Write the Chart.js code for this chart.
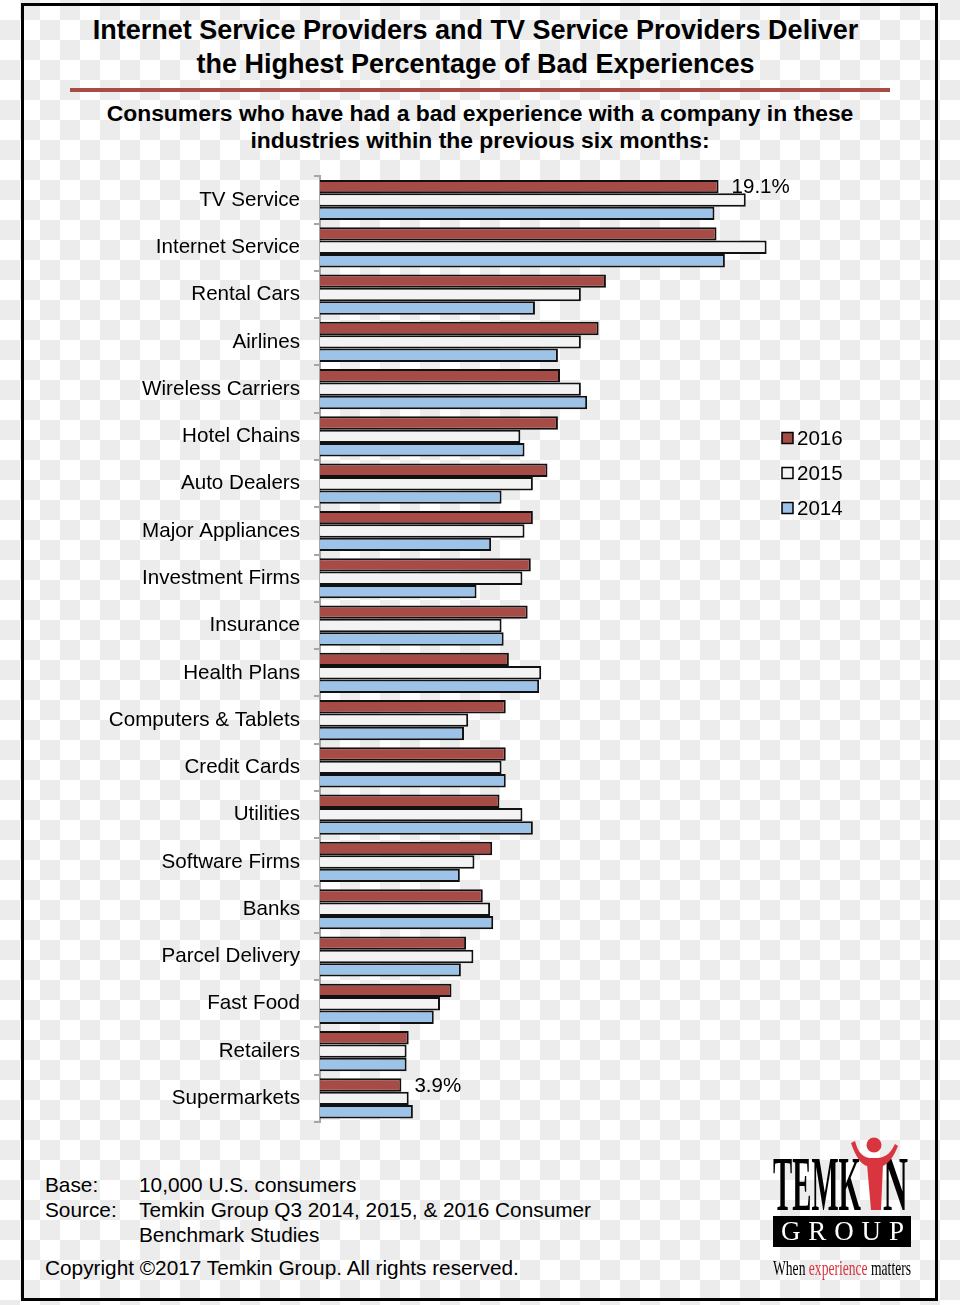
<!DOCTYPE html>
<html>
<head>
<meta charset="utf-8">
<script src="https://cdn.jsdelivr.net/npm/chart.js@4.4.1/dist/chart.umd.min.js"></script>
<style>
  html, body { margin: 0; padding: 0; }
  body {
    width: 960px; height: 1305px; position: relative; overflow: hidden;
    font-family: "Liberation Sans", Arial, sans-serif; color: #000;
    background-color: #fff;
    background-image: conic-gradient(#ececec 25%, #fff 0 50%, #ececec 0 75%, #fff 0);
    background-size: 40px 40px;
  }
  .frame { position: absolute; left: 21px; top: 3px; width: 917px; height: 1298px; box-sizing: border-box; border: 3px solid #000; }
  .title { position: absolute; left: 0; top: 13px; width: 951px; text-align: center; font-weight: bold; font-size: 27px; line-height: 34px; }
  .rule { position: absolute; left: 70px; top: 88px; width: 820px; height: 4px; background: #a84b47; }
  .subtitle { position: absolute; left: 0; top: 100px; width: 960px; text-align: center; font-weight: bold; font-size: 22.9px; line-height: 27px; }
  .foot { position: absolute; left: 45px; font-size: 20.8px; line-height: 25px; white-space: nowrap; }
  .foot span { display: inline-block; width: 94px; }
  #chart { position: absolute; left: 0; top: 150px; }
  .logo { position: absolute; left: 0; top: 0; }
</style>
</head>
<body>
<div class="frame"></div>
<div class="title">Internet Service Providers and TV Service Providers Deliver<br>the Highest Percentage of Bad Experiences</div>
<div class="rule"></div>
<div class="subtitle">Consumers who have had a bad experience with a company in these<br>industries within the previous six months:</div>

<canvas id="chart" width="960" height="1000"></canvas>

<div class="foot" style="top:1172px"><span>Base:</span>10,000 U.S. consumers</div>
<div class="foot" style="top:1197px"><span>Source:</span>Temkin Group Q3 2014, 2015, &amp; 2016 Consumer</div>
<div class="foot" style="top:1222px"><span></span>Benchmark Studies</div>
<div class="foot" style="top:1255px">Copyright ©2017 Temkin Group. All rights reserved.</div>

<svg class="logo" width="960" height="1305" viewBox="0 0 960 1305">
  <text x="773" y="1210" font-family="Liberation Serif, serif" font-weight="bold" font-size="78" textLength="88" lengthAdjust="spacingAndGlyphs">TEMK</text>
  <text x="883" y="1210" font-family="Liberation Serif, serif" font-weight="bold" font-size="78" textLength="25" lengthAdjust="spacingAndGlyphs">N</text>
  <circle cx="874" cy="1145" r="7.5" fill="#d8353f"/>
  <path d="M851,1143 C856,1158 862,1165 867,1166 L883,1166 C889,1163 894,1156 898,1146 L895,1144 C891,1152 887,1157 878,1158 L870,1158 C862,1157 858,1152 855,1141 Z" fill="#d8353f"/>
  <path d="M867,1164 L883,1164 L881,1210 L871,1210 Z" fill="#d8353f"/>
  <rect x="773" y="1216" width="138" height="31" fill="#000"/>
  <text x="781" y="1240" font-family="Liberation Serif, serif" font-size="27" fill="#fff" textLength="123" lengthAdjust="spacing">GROUP</text>
  <text x="773" y="1275" font-family="Liberation Serif, serif" font-size="22" textLength="138" lengthAdjust="spacingAndGlyphs">When <tspan fill="#d8353f">experience</tspan> matters</text>
</svg>

<script>
var categories = ["TV Service", "Internet Service", "Rental Cars", "Airlines", "Wireless Carriers",
  "Hotel Chains", "Auto Dealers", "Major Appliances", "Investment Firms", "Insurance",
  "Health Plans", "Computers & Tablets", "Credit Cards", "Utilities", "Software Firms",
  "Banks", "Parcel Delivery", "Fast Food", "Retailers", "Supermarkets"]

var v2016 = [19.1, 19.0, 13.7, 13.35, 11.5, 11.4, 10.9, 10.2, 10.1, 9.95, 9.05, 8.9, 8.9, 8.6, 8.25, 7.8, 7.0, 6.3, 4.25, 3.9]
var v2015 = [20.4, 21.4, 12.5, 12.5, 12.5, 9.6, 10.2, 9.8, 9.7, 8.7, 10.6, 7.1, 8.7, 9.7, 7.4, 8.15, 7.35, 5.75, 4.15, 4.25]
var v2014 = [18.9, 19.4, 10.3, 11.4, 12.8, 9.8, 8.7, 8.2, 7.5, 8.8, 10.5, 6.9, 8.9, 10.2, 6.7, 8.3, 6.75, 5.45, 4.15, 4.45]

// only the highest and lowest 2016 bars carry a value label
var labelled = [0, 19]

var FONT = "Liberation Sans, Arial, sans-serif"

var valueLabels = {
  id: "valueLabels",
  afterDatasetsDraw: function(chart) {
    var ctx = chart.ctx
    var meta = chart.getDatasetMeta(0)
    ctx.save()
    ctx.font = "20.5px " + FONT
    ctx.fillStyle = "#000"
    ctx.textAlign = "left"
    ctx.textBaseline = "middle"
    labelled.forEach(function(i){
      var bar = meta.data[i]
      ctx.fillText(v2016[i].toFixed(1) + "%", bar.x + 13, bar.y + 1)
    })
    ctx.restore()
  }
}

var sideLegend = {
  id: "sideLegend",
  afterDraw: function(chart) {
    var ctx = chart.ctx
    ctx.save()
    ctx.font = "20.5px " + FONT
    ctx.textBaseline = "middle"
    chart.data.datasets.forEach(function(ds, i){
      var y = 288 + i * 35
      ctx.fillStyle = ds.backgroundColor
      ctx.fillRect(782, y - 5.5, 11, 11)
      ctx.lineWidth = 1.5
      ctx.strokeStyle = "#000"
      ctx.strokeRect(782, y - 5.5, 11, 11)
      ctx.fillStyle = "#000"
      ctx.fillText(ds.label, 797, y + 1)
    })
    ctx.restore()
  }
}

var chart = new Chart(document.getElementById("chart").getContext("2d"), {
  type: "bar",
  data: {
    labels: categories,
    datasets: [
      { label: "2016", data: v2016, backgroundColor: "#a64b46", borderColor: "#111", borderWidth: 2 },
      { label: "2015", data: v2015, backgroundColor: "#f3f3f3", borderColor: "#111", borderWidth: 2 },
      { label: "2014", data: v2014, backgroundColor: "#9dc3e8", borderColor: "#111", borderWidth: 2 }
    ]
  },
  options: {
    indexAxis: "y",
    responsive: false,
    animation: false,
    datasets: { bar: { categoryPercentage: 0.85, barPercentage: 1.0 } },
    layout: { padding: { top: 24, bottom: 28, left: 0, right: 118.25 } },
    plugins: { legend: { display: false }, tooltip: { enabled: false } },
    scales: {
      x: { display: false, min: 0, max: 25 },
      y: {
        grid: { display: true, drawOnChartArea: false, drawTicks: true, tickLength: 6, color: "#a6a6a6", lineWidth: 2, offset: true },
        border: { display: true, color: "#a6a6a6", width: 2 },
        ticks: { color: "#000", padding: 14, font: { size: 20.6, family: FONT } },
        afterFit: function(scale){ scale.width = 320 }
      }
    }
  },
  plugins: [valueLabels, sideLegend]
})
</script>
</body>
</html>
